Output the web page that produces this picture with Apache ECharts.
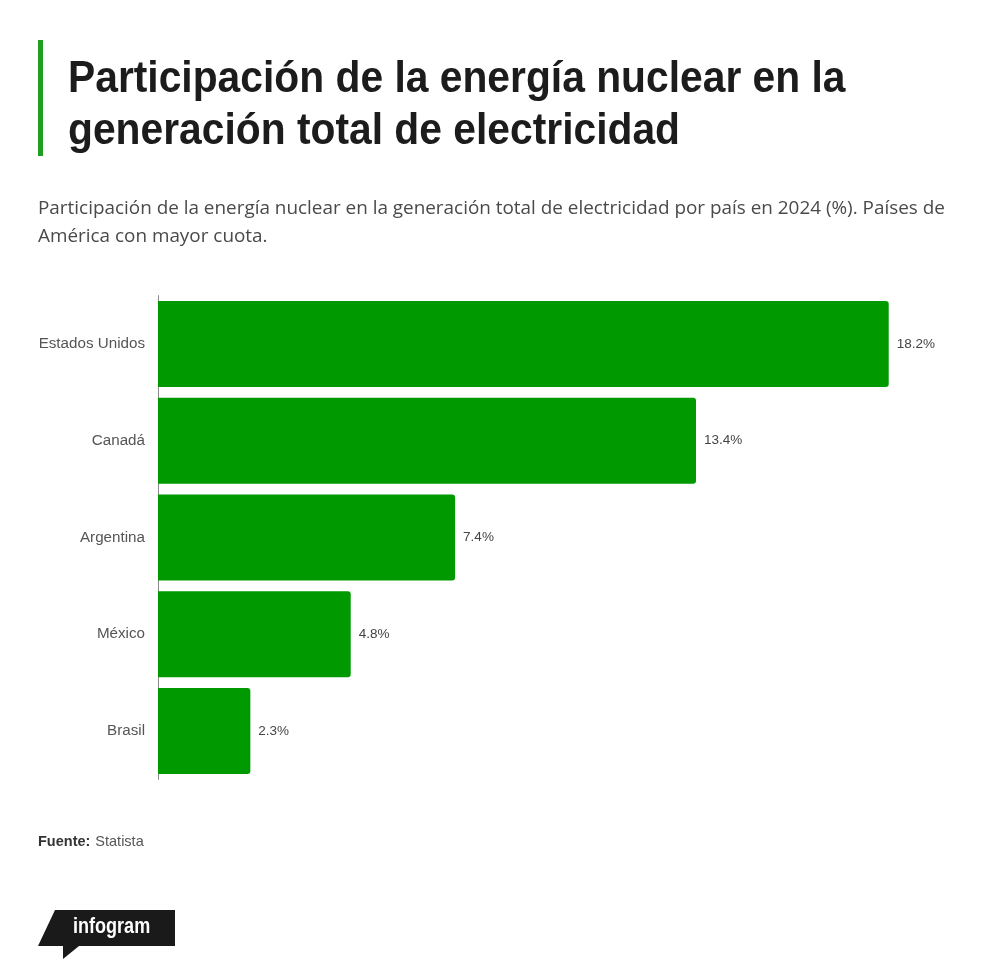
<!DOCTYPE html>
<html>
<head>
<meta charset="utf-8">
<script src="https://cdn.jsdelivr.net/npm/echarts@6/dist/echarts.min.js"></script>
<style>
  html, body { margin: 0; padding: 0; background: #fff; }
  #main { width: 1000px; height: 978px; }
</style>
</head>
<body>
<div id="main"></div>
<script>
// datos
const paises = ['Estados Unidos', 'Canadá', 'Argentina', 'México', 'Brasil'];
const cuota = [18.2, 13.4, 7.4, 4.8, 2.3];

const titulo = 'Participación de la energía nuclear en la\ngeneración total de electricidad';
const subtitulo = 'Participación de la energía nuclear en la generación total de electricidad por país en 2024 (%). Países de\nAmérica con mayor cuota.';

const verde = '#009a00';
const chart = echarts.init(document.getElementById('main'));

chart.setOption({
  backgroundColor: '#fff',
  animation: false,
  title: [
    {
      text: subtitulo,
      left: 38,
      top: 195,
      padding: 0,
      textStyle: {
        fontFamily: '"Open Sans", sans-serif',
        fontWeight: 'normal',
        fontSize: 18.9,
        lineHeight: 28,
        color: '#4a4a4a'
      }
    },
    {
      text: '{b|Fuente:} {n|Statista}',
      left: 38,
      top: 833,
      padding: 0,
      textStyle: {
        rich: {
          b: { fontFamily: '"Liberation Sans", sans-serif', fontWeight: 'bold', fontSize: 14.5, color: '#333' },
          n: { fontFamily: '"Liberation Sans", sans-serif', fontWeight: 'normal', fontSize: 14.5, color: '#555' }
        }
      }
    }
  ],
  graphic: [
    {
      type: 'rect',
      left: 38, top: 40,
      shape: { width: 5, height: 116 },
      style: { fill: '#1f9e1f' }
    },
    {
      // título en dos líneas, comprimido horizontalmente
      type: 'text',
      x: 68, y: 54,
      scaleX: 0.927,
      style: {
        text: titulo,
        fill: '#1c1c1c',
        font: 'bold 44px "Liberation Sans", sans-serif',
        lineHeight: 52
      }
    },
    {
      type: 'polygon',
      shape: { points: [[55, 910], [175, 910], [175, 946], [79, 946], [63, 959], [63, 946], [38, 946]] },
      style: { fill: '#1a1a1a' }
    },
    {
      type: 'text',
      x: 73, y: 927,
      scaleX: 0.82,
      style: {
        text: 'infogram',
        fill: '#fff',
        font: 'bold 22px "Liberation Sans", sans-serif',
        verticalAlign: 'middle'
      }
    }
  ],
  grid: {
    left: 158,
    top: 295.6,
    width: 803,
    height: 483.75,
    containLabel: false
  },
  xAxis: {
    type: 'value',
    min: 0,
    max: 20,
    show: false
  },
  yAxis: {
    type: 'category',
    data: paises,
    inverse: true,
    axisLine: { show: true, lineStyle: { color: '#8a8a8a', width: 1 } },
    axisTick: { show: false },
    splitLine: { show: false },
    axisLabel: {
      margin: 13,
      fontFamily: '"Liberation Sans", sans-serif',
      fontSize: 15.2,
      color: '#555'
    }
  },
  series: [
    {
      type: 'bar',
      data: cuota,
      barWidth: 86,
      itemStyle: { color: verde, borderRadius: [0, 3, 3, 0] },
      label: {
        show: true,
        position: 'right',
        distance: 8,
        formatter: '{c}%',
        fontFamily: '"Liberation Sans", sans-serif',
        fontSize: 13.5,
        color: '#444'
      }
    }
  ]
});
</script>
</body>
</html>
